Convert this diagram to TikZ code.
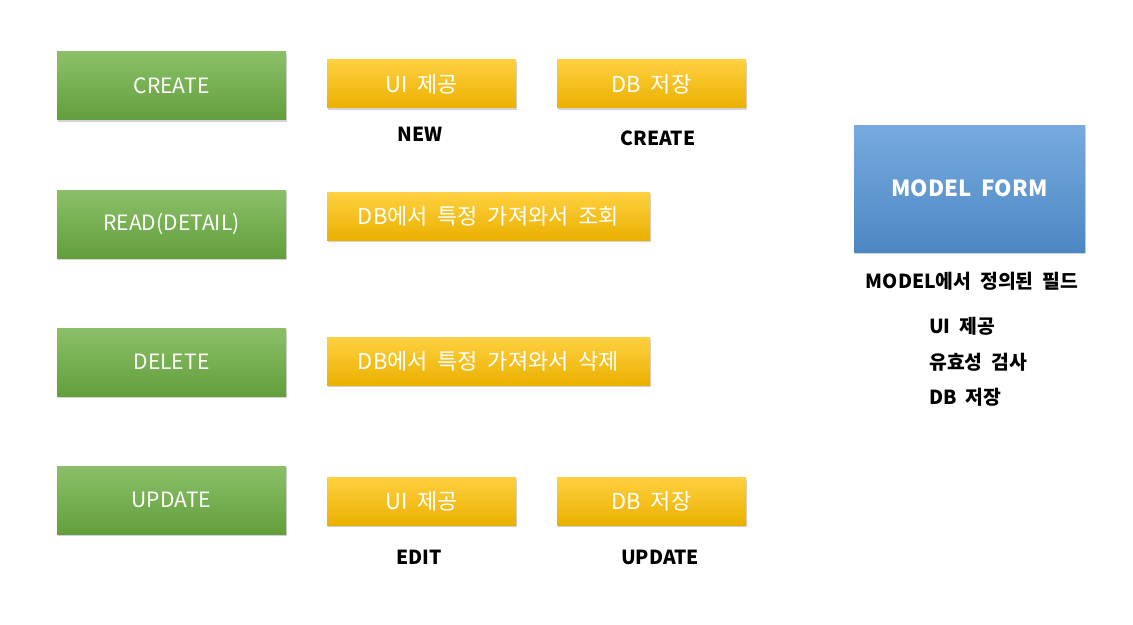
\documentclass[tikz,border=0pt]{standalone}
\usepackage{fontspec}
\setmainfont[WordSpace=2]{Noto Sans CJK KR}
\usepackage{tikz}
\usepackage{xcolor}
\usetikzlibrary{shadows}
\definecolor{crudgreen}{HTML}{6EB043}
\definecolor{stepyellow}{HTML}{FFC000}
\definecolor{formblue}{HTML}{5596D8}

\begin{document}
\begin{tikzpicture}[
  every node/.style={font=\fontsize{10}{12}\selectfont},
  crudbox/.style={rectangle,minimum width=4.58cm,minimum height=1.36cm,
    top color=crudgreen!80!white,bottom color=crudgreen!90!black,
    text=white,font=\fontsize{12}{14}\selectfont,
    drop shadow={shadow xshift=0.6pt,shadow yshift=-0.9pt,opacity=0.35}},
  stepbox/.style={rectangle,minimum width=3.78cm,minimum height=0.96cm,
    top color=stepyellow!75!white,middle color=stepyellow,bottom color=stepyellow!92!black,
    text=white,font=\fontsize{12.5}{14}\selectfont,
    drop shadow={shadow xshift=0.6pt,shadow yshift=-0.9pt,opacity=0.35}},
  widebox/.style={stepbox,minimum width=6.46cm},
  formbox/.style={rectangle,minimum width=4.62cm,minimum height=2.54cm,
    top color=formblue!80!white,bottom color=formblue!90!black,
    text=white,font=\fontsize{12.6}{14}\selectfont\bfseries,
    drop shadow={shadow xshift=0.6pt,shadow yshift=-0.9pt,opacity=0.35}},
  tag/.style={font=\fontsize{11}{13}\selectfont\bfseries}
]
  \useasboundingbox (0,0) rectangle (22.66,-12.5);
  % left column
  \node[crudbox] (create) at (3.43,-1.72) {CREATE};
  \node[crudbox] (read) at (3.43,-4.48) {READ(DETAIL)};
  \node[crudbox] (delete) at (3.43,-7.24) {DELETE};
  \node[crudbox] (update) at (3.43,-10.0) {UPDATE};
  % steps
  \node[stepbox] (createui) at (8.43,-1.68) {UI 제공};
  \node[stepbox] (createdb) at (13.03,-1.68) {DB 저장};
  \node[widebox] (readdb) at (9.77,-4.33) {DB에서 특정 가져와서 조회};
  \node[widebox] (deletedb) at (9.77,-7.23) {DB에서 특정 가져와서 삭제};
  \node[stepbox] (updateui) at (8.43,-10.02) {UI 제공};
  \node[stepbox] (updatedb) at (13.03,-10.02) {DB 저장};
  \node[tag] (new) at (8.4,-2.68) {NEW};
  \node[tag] (createtag) at (13.16,-2.76) {CREATE};
  \node[tag] (edit) at (8.38,-11.14) {EDIT};
  \node[tag] (updatetag) at (13.2,-11.14) {UPDATE};
  % model form
  \node[formbox] (form) at (19.39,-3.77) {MODEL FORM};
  \node[tag] (fields) at (19.44,-5.62) {MODEL에서 정의된 필드};
  \node[tag,anchor=west] (uiitem) at (18.46,-6.52) {UI 제공};
  \node[tag,anchor=west] (checkitem) at (18.46,-7.24) {유효성 검사};
  \node[tag,anchor=west] (dbitem) at (18.46,-7.94) {DB 저장};
\end{tikzpicture}
\end{document}
